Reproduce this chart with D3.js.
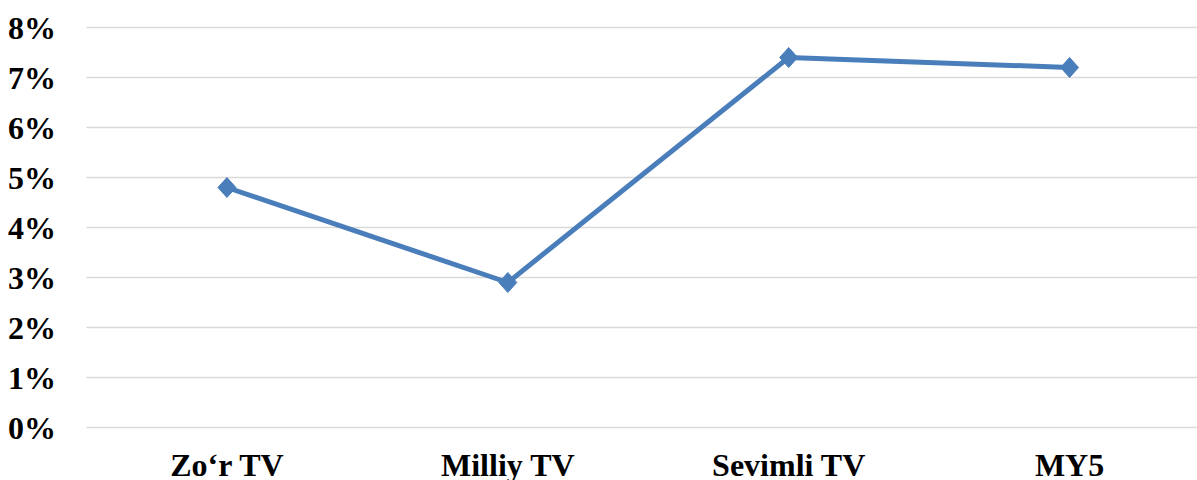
<!DOCTYPE html>
<html>
<head>
<meta charset="utf-8">
<script src="https://cdn.jsdelivr.net/npm/d3@7"></script>
<style>
html,body{margin:0;padding:0;background:#fff;overflow:hidden;}
svg{display:block;}
</style>
</head>
<body>
<svg id="chart" width="1197" height="480"></svg>
<script>
const categories = ["Zo‘r TV", "Milliy TV", "Sevimli TV", "MY5"];
const values = [4.8, 2.9, 7.4, 7.2];
const yTicks = [0, 1, 2, 3, 4, 5, 6, 7, 8];

(function () {
const svg = d3.select("#chart");
const W = 1197;
const mLeft = 86.5, mRight = 1210, mTop = 27.5, mBottom = 427.5;

const x = d3.scaleBand().domain(categories).range([mLeft, mRight]);
const y = d3.scaleLinear().domain([0, 8]).range([mBottom, mTop]);
const cx = d => x(d) + x.bandwidth() / 2;

// gridlines
svg.append("g").selectAll("line").data(yTicks).join("line")
  .attr("x1", mLeft).attr("x2", W)
  .attr("y1", d => y(d)).attr("y2", d => y(d))
  .attr("stroke", "#d9d9d9").attr("stroke-width", 1.5);

// y axis labels
const yAxis = d3.axisLeft(y).tickValues(yTicks).tickFormat(d => d + "%").tickSize(0).tickPadding(0);
const ya = svg.append("g").attr("transform", "translate(56,0)").call(yAxis);
ya.select(".domain").remove();
ya.selectAll("text")
  .attr("font-family", "'Liberation Serif','Times New Roman',serif")
  .attr("font-weight", "bold").attr("font-size", 32).attr("fill", "#000")
  .attr("dy", "0.33em");

// x axis labels
const xAxis = d3.axisBottom(x).tickSize(0).tickPadding(0);
const xa = svg.append("g").attr("transform", "translate(0,476)").call(xAxis);
xa.select(".domain").remove();
xa.selectAll("text")
  .attr("font-family", "'Liberation Serif','Times New Roman',serif")
  .attr("font-weight", "bold").attr("font-size", 32).attr("fill", "#000")
  .attr("y", 0).attr("dy", 0);

// line
const data = categories.map((c, i) => ({c, v: values[i]}));
svg.append("path").datum(data)
  .attr("d", d3.line().x(d => cx(d.c)).y(d => y(d.v)))
  .attr("fill", "none").attr("stroke", "#4a7ebb").attr("stroke-width", 5)
  .attr("stroke-linejoin", "round");

// markers
svg.append("g").selectAll("path").data(data).join("path")
  .attr("transform", d => `translate(${cx(d.c)},${y(d.v)})`)
  .attr("d", "M0,-10L9,0L0,10L-9,0Z")
  .attr("fill", "#4a7ebb").attr("stroke", "#4a7ebb").attr("stroke-width", 1);
})();
</script>
</body>
</html>
